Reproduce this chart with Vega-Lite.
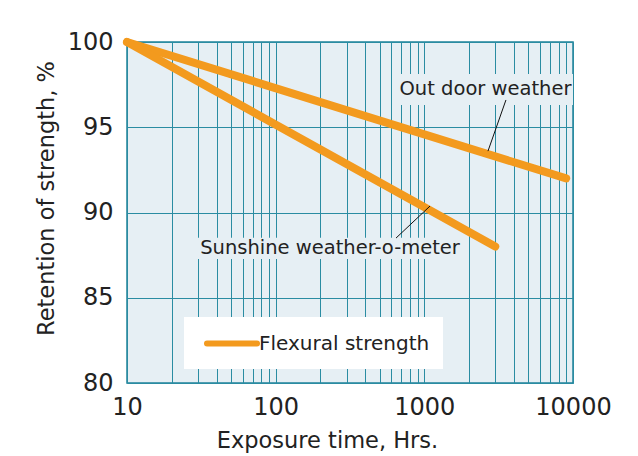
{
  "$schema": "https://vega.github.io/schema/vega-lite/v6.json",
  "width": 446,
  "height": 341,
  "autosize": {"type": "none"},
  "padding": {"left": 127, "top": 42, "right": 65, "bottom": 73},
  "background": "white",
  "config": {
    "font": "DejaVu Sans",
    "view": {"fill": "#e6eff4", "stroke": "#1f8299", "strokeWidth": 1.5}
  },
  "datasets": {
    "lines": [
      {"condition": "Out door weather", "measure": "Flexural strength", "hours": 10, "retention": 100},
      {"condition": "Out door weather", "measure": "Flexural strength", "hours": 9000, "retention": 92},
      {"condition": "Sunshine weather-o-meter", "measure": "Flexural strength", "hours": 10, "retention": 100},
      {"condition": "Sunshine weather-o-meter", "measure": "Flexural strength", "hours": 3000, "retention": 88}
    ],
    "labels": [
      {"text": "Out door weather", "x": 2578, "y": 97.27, "x_lo": 686, "x_hi": 10000, "y_lo": 96.3, "y_hi": 98.12, "lx1": 3540, "ly1": 96.6, "lx2": 2680, "ly2": 93.6},
      {"text": "Sunshine weather-o-meter", "x": 232, "y": 87.92, "x_lo": 29.6, "x_hi": 1791, "y_lo": 87.27, "y_hi": 88.52, "lx1": 645, "ly1": 88.5, "lx2": 1092, "ly2": 90.38}
    ]
  },
  "layer": [
    {
      "data": {"name": "labels"},
      "mark": {"type": "rect", "fill": "#e6eff4"},
      "encoding": {
        "x": {
          "field": "x_lo", "type": "quantitative",
          "scale": {"type": "log", "domain": [10, 10000], "nice": false},
          "axis": {
            "title": "Exposure time, Hrs.",
            "values": [10, 20, 30, 40, 50, 60, 70, 80, 90, 100, 200, 300, 400, 500, 600, 700, 800, 900, 1000, 2000, 3000, 4000, 5000, 6000, 7000, 8000, 9000, 10000],
            "format": "d",
            "labelExpr": "indexof([10, 100, 1000, 10000], datum.value) >= 0 ? datum.label : ''",
            "grid": true, "gridColor": "#2a8ca2", "gridWidth": 1, "gridOpacity": 1,
            "ticks": false, "domain": false,
            "labelFontSize": 24, "labelPadding": 12, "labelColor": "#222", "labelFlush": false, "labelOverlap": false,
            "titleFontSize": 22.5, "titleFontWeight": "normal", "titleColor": "#222", "titlePadding": 10,
            "titleX": 200, "titleAlign": "center"
          }
        },
        "x2": {"field": "x_hi"},
        "y": {
          "field": "y_lo", "type": "quantitative",
          "scale": {"domain": [80, 100], "nice": false, "zero": false},
          "axis": {
            "title": "Retention of strength, %",
            "values": [80, 85, 90, 95, 100],
            "grid": true, "gridColor": "#2a8ca2", "gridWidth": 1, "gridOpacity": 1,
            "ticks": false, "domain": false,
            "labelFontSize": 24, "labelPadding": 14, "labelColor": "#222", "labelFlush": false,
            "titleFontSize": 22.5, "titleFontWeight": "normal", "titleColor": "#222", "titlePadding": 9,
            "titleY": 156, "titleAlign": "center"
          }
        },
        "y2": {"field": "y_hi"}
      }
    },
    {
      "data": {"name": "lines"},
      "mark": {"type": "line", "strokeWidth": 8, "strokeCap": "round"},
      "encoding": {
        "x": {"field": "hours", "type": "quantitative", "scale": {"type": "log", "domain": [10, 10000], "nice": false}, "axis": {"title": "Exposure time, Hrs."}},
        "y": {"field": "retention", "type": "quantitative", "scale": {"domain": [80, 100], "nice": false, "zero": false}, "axis": {"title": "Retention of strength, %"}},
        "color": {
          "field": "measure", "type": "nominal",
          "scale": {"range": ["#f39a1e"]},
          "legend": {
            "orient": "none", "legendX": 57, "legendY": 275,
            "title": null, "fillColor": "white", "padding": 13.5,
            "symbolType": "M-0.35,0H4.65", "symbolSize": 400, "symbolStrokeWidth": 6,
            "labelFontSize": 20, "labelColor": "#222", "labelOffset": 35.5, "labelLimit": 400,
            "encode": {"symbols": {"update": {"strokeCap": {"value": "round"}}}}
          }
        },
        "detail": {"field": "condition", "type": "nominal"}
      }
    },
    {
      "data": {"name": "labels"},
      "mark": {"type": "rule", "color": "#111", "strokeWidth": 1},
      "encoding": {
        "x": {"field": "lx1", "type": "quantitative", "axis": {"title": "Exposure time, Hrs."}},
        "y": {"field": "ly1", "type": "quantitative", "axis": {"title": "Retention of strength, %"}},
        "x2": {"field": "lx2"},
        "y2": {"field": "ly2"}
      }
    },
    {
      "data": {"name": "labels"},
      "mark": {"type": "text", "fontSize": 19.5, "color": "#222", "align": "center", "baseline": "middle"},
      "encoding": {
        "x": {"field": "x", "type": "quantitative", "axis": {"title": "Exposure time, Hrs."}},
        "y": {"field": "y", "type": "quantitative", "axis": {"title": "Retention of strength, %"}},
        "text": {"field": "text", "type": "nominal"}
      }
    }
  ]
}
